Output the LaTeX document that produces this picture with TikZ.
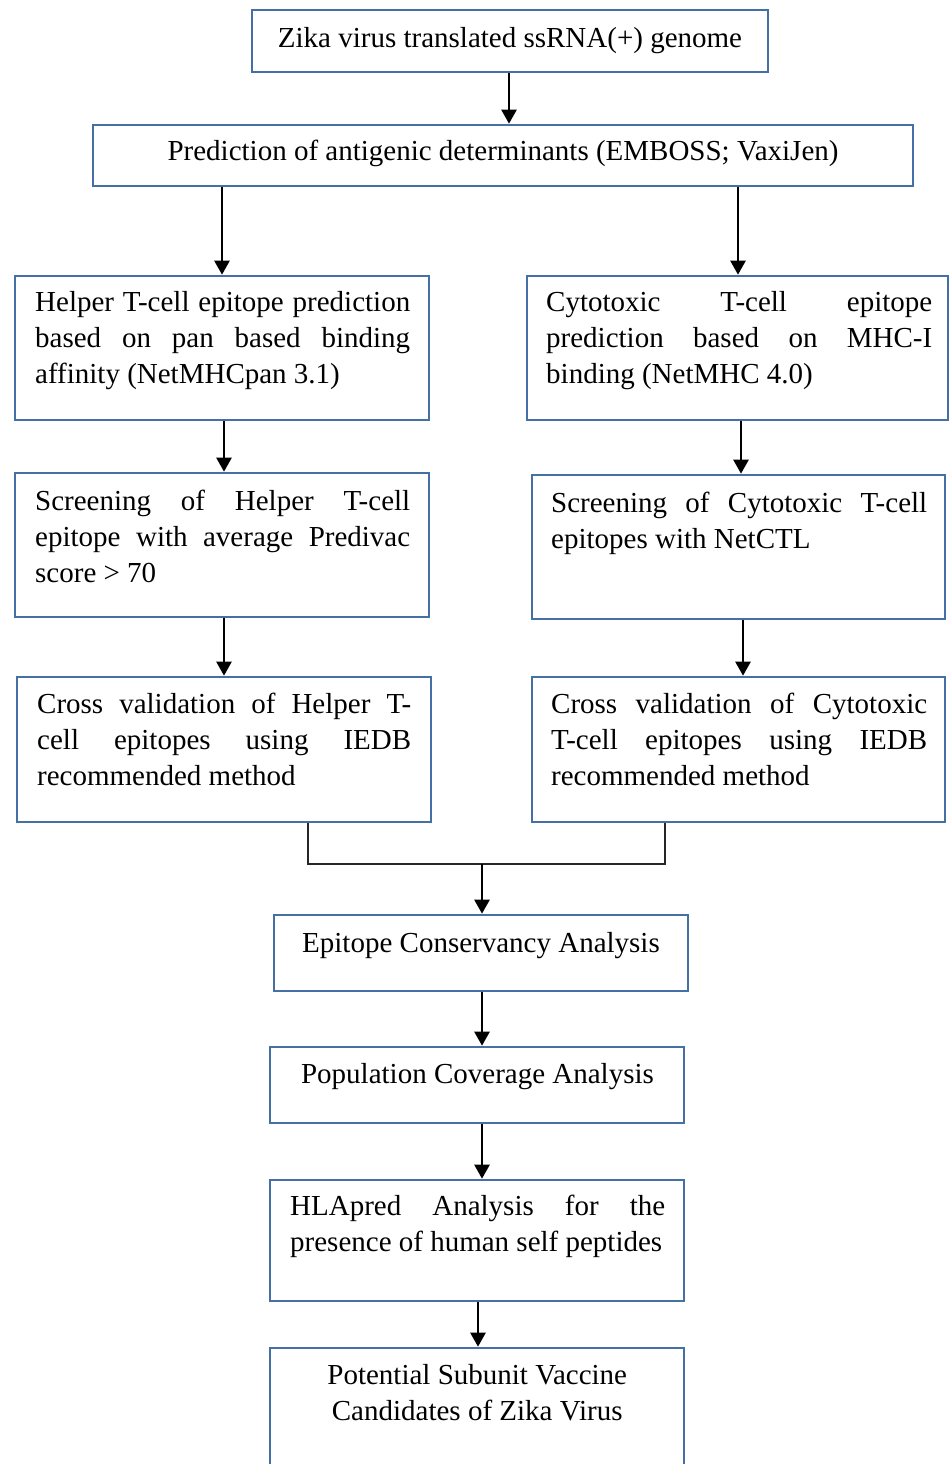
\documentclass[tikz,border=0pt]{standalone}
\usepackage{fontspec}
\setmainfont{Liberation Serif}
\usetikzlibrary{arrows.meta}
\definecolor{boxblue}{RGB}{68,112,166}
\newcommand\jtext[2]{\vtop{\hsize=#1\parindent=0pt\parskip=0pt\fontsize{29}{36}\selectfont #2}}
\newcommand\fl[1]{\makebox[\hsize][s]{#1}\par}
\tikzset{
  flowbox/.style={draw=boxblue, line width=2.6pt, inner sep=0pt, minimum width=#1},
  txt/.style={inner sep=0pt, font=\fontsize{29}{36}\selectfont, text=black},
  conn/.style={draw=black, line width=2.4pt, -{Triangle[width=15pt,length=14pt]}},
  joinline/.style={draw=black!85, line width=1.8pt},
}
\begin{document}
\begin{tikzpicture}[x=1pt,y=-1pt]
\useasboundingbox (0,0) rectangle (950,1464);
\begin{scope}
\clip (0,0) rectangle (950,1464);
% boxes
\node[flowbox=516pt, minimum height=62pt] (b1) at (510,41) {};
\node[flowbox=820pt, minimum height=61pt] (b2) at (503,155.5) {};
\node[flowbox=414pt, minimum height=144pt] (b3) at (222,348) {};
\node[flowbox=421pt, minimum height=144pt] (b4) at (737.5,348) {};
\node[flowbox=414pt, minimum height=144pt] (b5) at (222,545) {};
\node[flowbox=413pt, minimum height=144pt] (b6) at (738.5,547) {};
\node[flowbox=414pt, minimum height=145pt] (b7) at (224,749.5) {};
\node[flowbox=413pt, minimum height=145pt] (b8) at (738.5,749.5) {};
\node[flowbox=414pt, minimum height=76pt] (b9) at (481,953) {};
\node[flowbox=414pt, minimum height=76pt] (b10) at (477,1085) {};
\node[flowbox=414pt, minimum height=121pt] (b11) at (477,1240.5) {};
\node[flowbox=414pt, minimum height=140pt] (b12) at (477,1418) {};
\end{scope}
% texts
\node[txt, anchor=base] (t1) at (510,47.5) {Zika virus translated ssRNA(+) genome};
\node[txt, anchor=base] (t2) at (503,160) {Prediction of antigenic determinants (EMBOSS; VaxiJen)};
\node[txt, anchor=base west] (t3) at (35,311) {\jtext{375pt}{\fl{Helper T-cell epitope prediction}\fl{based on pan based binding}affinity (NetMHCpan 3.1)}};
\node[txt, anchor=base west] (t4) at (546,311) {\jtext{386pt}{\fl{Cytotoxic T-cell epitope}\fl{prediction based on MHC-I}binding (NetMHC 4.0)}};
\node[txt, anchor=base west] (t5) at (35,510) {\jtext{375pt}{\fl{Screening of Helper T-cell}\fl{epitope with average Predivac}score > 70}};
\node[txt, anchor=base west] (t6) at (551,512) {\jtext{376pt}{\fl{Screening of Cytotoxic T-cell}epitopes with NetCTL}};
\node[txt, anchor=base west] (t7) at (37,713) {\jtext{374pt}{\fl{Cross validation of Helper T-}\fl{cell epitopes using IEDB}recommended method}};
\node[txt, anchor=base west] (t8) at (551,713) {\jtext{376pt}{\fl{Cross validation of Cytotoxic}\fl{T-cell epitopes using IEDB}recommended method}};
\node[txt, anchor=base] (t9) at (481,952) {Epitope Conservancy Analysis};
\node[txt, anchor=base] (t10) at (477.5,1083) {Population Coverage Analysis};
\node[txt, anchor=base west] (t11) at (290,1215) {\jtext{375pt}{\fl{HLApred Analysis for the}presence of human self peptides}};
\node[txt, anchor=base west] (t12) at (277,1384) {\jtext{400pt}{\centering Potential Subunit Vaccine\par Candidates of Zika Virus}};
% connectors
\draw[conn] ([xshift=-1pt]b1.south) -- ([xshift=-1pt]b1.south |- b2.north);
\draw[conn] (b3.north |- b2.south) -- (b3.north);
\draw[conn] ([xshift=0.5pt]b4.north |- b2.south) -- ([xshift=0.5pt]b4.north);
\draw[conn] ([xshift=2pt]b3.south) -- ([xshift=2pt]b5.north);
\draw[conn] ([xshift=3.5pt]b4.south) -- ([xshift=3.5pt]b4.south |- b6.north);
\draw[conn] (b5.south -| b7.south) -- (b7.north);
\draw[conn] ([xshift=4.5pt]b6.south) -- ([xshift=4.5pt]b8.north);
\coordinate (jl) at (308,864);
\coordinate (jr) at (665,864);
\coordinate (jc) at (482,864);
\draw[joinline] (b7.south -| jl) -- (jl) -- (jr) -- (b8.south -| jr);
\draw[conn] (jc) -- (jc |- b9.north);
\draw[conn] ([xshift=1pt]b9.south) -- ([xshift=1pt]b9.south |- b10.north);
\draw[conn] ([xshift=5pt]b10.south) -- ([xshift=5pt]b11.north);
\draw[conn] ([xshift=1pt]b11.south) -- ([xshift=1pt]b12.north);
\end{tikzpicture}
\end{document}
